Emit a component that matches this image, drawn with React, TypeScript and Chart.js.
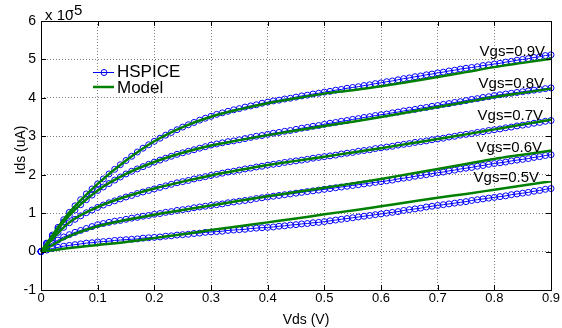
import { useEffect, useRef } from 'react';
import { Chart, registerables } from 'chart.js';

Chart.register(...registerables);

// Vds sweep (V) of the HSPICE samples and of the model curve samples
const vdsSweep = [
  0, 0.01, 0.02, 0.03, 0.04, 0.05, 0.06, 0.07, 0.08, 0.09,
  0.1, 0.11, 0.12, 0.13, 0.14, 0.15, 0.16, 0.17, 0.18, 0.19,
  0.2, 0.21, 0.22, 0.23, 0.24, 0.25, 0.26, 0.27, 0.28, 0.29,
  0.3, 0.31, 0.32, 0.33, 0.34, 0.35, 0.36, 0.37, 0.38, 0.39,
  0.4, 0.41, 0.42, 0.43, 0.44, 0.45, 0.46, 0.47, 0.48, 0.49,
  0.5, 0.51, 0.52, 0.53, 0.54, 0.55, 0.56, 0.57, 0.58, 0.59,
  0.6, 0.61, 0.62, 0.63, 0.64, 0.65, 0.66, 0.67, 0.68, 0.69,
  0.7, 0.71, 0.72, 0.73, 0.74, 0.75, 0.76, 0.77, 0.78, 0.79,
  0.8, 0.81, 0.82, 0.83, 0.84, 0.85, 0.86, 0.87, 0.88, 0.89,
  0.9,
];
const vdsModel = [
  0, 0.05, 0.1, 0.15, 0.2, 0.25, 0.3, 0.35, 0.4, 0.45,
  0.5, 0.55, 0.6, 0.65, 0.7, 0.75, 0.8, 0.85, 0.9,
];

const seriesNames = ['HSPICE', 'Model'];
const vgsLabels = ['Vgs=0.9V', 'Vgs=0.8V', 'Vgs=0.7V', 'Vgs=0.6V', 'Vgs=0.5V'];
const xTitle = 'Vds (V)';
const yTitle = 'Ids (uA)';
const yExponentBase = 'x 10';
const yExponent = '-5';

const xTickValues = [0, 0.1, 0.2, 0.3, 0.4, 0.5, 0.6, 0.7, 0.8, 0.9];
const xTickLabels = ['0', '0.1', '0.2', '0.3', '0.4', '0.5', '0.6', '0.7', '0.8', '0.9'];
const yTickValues = [-1, 0, 1, 2, 3, 4, 5, 6];
const yTickLabels = ['-1', '0', '1', '2', '3', '4', '5', '6'];

// HSPICE Ids (x 1e-5 A)
const hspice09 = [
  0, 0.22, 0.43, 0.63, 0.83, 1.02, 1.19, 1.35, 1.5, 1.63,
  1.76, 1.89, 2.02, 2.14, 2.26, 2.37, 2.48, 2.59, 2.69, 2.78,
  2.87, 2.95, 3.03, 3.1, 3.17, 3.24, 3.3, 3.36, 3.42, 3.47,
  3.52, 3.57, 3.61, 3.65, 3.69, 3.72, 3.76, 3.79, 3.82, 3.86,
  3.89, 3.92, 3.94, 3.97, 3.99, 4.02, 4.05, 4.07, 4.1, 4.12,
  4.15, 4.17, 4.2, 4.22, 4.25, 4.27, 4.29, 4.32, 4.34, 4.37,
  4.39, 4.42, 4.44, 4.47, 4.5, 4.52, 4.55, 4.57, 4.6, 4.62,
  4.65, 4.67, 4.7, 4.72, 4.75, 4.77, 4.79, 4.81, 4.84, 4.86,
  4.88, 4.9, 4.93, 4.95, 4.98, 5.0, 5.02, 5.05, 5.07, 5.1,
  5.12,
];
const hspice08 = [
  0, 0.21, 0.4, 0.59, 0.77, 0.94, 1.08, 1.22, 1.35, 1.47,
  1.59, 1.68, 1.77, 1.86, 1.94, 2.02, 2.09, 2.15, 2.21, 2.27,
  2.33, 2.38, 2.43, 2.48, 2.53, 2.57, 2.61, 2.65, 2.69, 2.73,
  2.77, 2.8, 2.83, 2.86, 2.88, 2.91, 2.94, 2.97, 3.0, 3.02,
  3.05, 3.08, 3.1, 3.13, 3.15, 3.18, 3.21, 3.23, 3.26, 3.28,
  3.31, 3.34, 3.36, 3.39, 3.41, 3.44, 3.46, 3.49, 3.51, 3.54,
  3.56, 3.58, 3.61, 3.63, 3.66, 3.68, 3.7, 3.73, 3.75, 3.78,
  3.8, 3.83, 3.85, 3.88, 3.9, 3.93, 3.96, 3.98, 4.01, 4.03,
  4.06, 4.08, 4.1, 4.12, 4.14, 4.16, 4.18, 4.2, 4.22, 4.24,
  4.26,
];
const hspice07 = [
  0, 0.18, 0.35, 0.5, 0.63, 0.75, 0.84, 0.93, 1.01, 1.08,
  1.15, 1.21, 1.27, 1.32, 1.37, 1.42, 1.46, 1.51, 1.55, 1.59,
  1.63, 1.67, 1.71, 1.75, 1.79, 1.82, 1.85, 1.89, 1.92, 1.95,
  1.98, 2.01, 2.04, 2.07, 2.09, 2.12, 2.15, 2.17, 2.2, 2.22,
  2.25, 2.27, 2.29, 2.32, 2.34, 2.36, 2.38, 2.4, 2.43, 2.45,
  2.47, 2.49, 2.51, 2.54, 2.56, 2.58, 2.61, 2.63, 2.65, 2.68,
  2.7, 2.72, 2.74, 2.77, 2.79, 2.81, 2.84, 2.86, 2.88, 2.91,
  2.93, 2.95, 2.98, 3.0, 3.03, 3.05, 3.07, 3.1, 3.12, 3.15,
  3.17, 3.19, 3.22, 3.24, 3.27, 3.29, 3.31, 3.34, 3.36, 3.39,
  3.41,
];
const hspice06 = [
  0, 0.12, 0.22, 0.3, 0.38, 0.44, 0.5, 0.55, 0.6, 0.65,
  0.7, 0.73, 0.76, 0.79, 0.81, 0.84, 0.87, 0.89, 0.92, 0.94,
  0.97, 0.99, 1.02, 1.04, 1.07, 1.09, 1.11, 1.14, 1.16, 1.18,
  1.2, 1.22, 1.24, 1.27, 1.29, 1.31, 1.33, 1.35, 1.38, 1.4,
  1.42, 1.44, 1.46, 1.48, 1.5, 1.52, 1.54, 1.56, 1.58, 1.6,
  1.62, 1.64, 1.66, 1.68, 1.7, 1.72, 1.74, 1.76, 1.78, 1.8,
  1.82, 1.84, 1.86, 1.89, 1.91, 1.93, 1.96, 1.98, 2.0, 2.03,
  2.05, 2.07, 2.1, 2.12, 2.15, 2.17, 2.19, 2.22, 2.24, 2.27,
  2.29, 2.31, 2.33, 2.36, 2.38, 2.4, 2.42, 2.45, 2.47, 2.5,
  2.52,
];
const hspice05 = [
  0, 0.04, 0.08, 0.11, 0.14, 0.16, 0.18, 0.2, 0.22, 0.23,
  0.25, 0.26, 0.27, 0.29, 0.3, 0.31, 0.32, 0.33, 0.35, 0.36,
  0.37, 0.38, 0.4, 0.41, 0.43, 0.44, 0.45, 0.47, 0.48, 0.5,
  0.51, 0.52, 0.53, 0.55, 0.56, 0.57, 0.58, 0.6, 0.61, 0.62,
  0.63, 0.64, 0.66, 0.67, 0.69, 0.7, 0.72, 0.73, 0.75, 0.76,
  0.78, 0.8, 0.82, 0.84, 0.86, 0.88, 0.9, 0.92, 0.94, 0.96,
  0.98, 1.0, 1.02, 1.04, 1.07, 1.09, 1.11, 1.13, 1.16, 1.18,
  1.2, 1.22, 1.24, 1.26, 1.28, 1.3, 1.33, 1.35, 1.37, 1.39,
  1.41, 1.43, 1.45, 1.48, 1.5, 1.52, 1.54, 1.57, 1.59, 1.62,
  1.64,
];

// Model Ids (x 1e-5 A)
const model09 = [0, 1.02, 1.76, 2.37, 2.87, 3.24, 3.51, 3.7, 3.86, 3.99, 4.11, 4.2, 4.3, 4.42, 4.54, 4.67, 4.8, 4.91, 5.02];
const model08 = [0, 0.94, 1.59, 2.02, 2.33, 2.57, 2.76, 2.9, 3.03, 3.15, 3.27, 3.38, 3.5, 3.63, 3.76, 3.89, 4.02, 4.13, 4.24];
const model07 = [0, 0.76, 1.16, 1.43, 1.64, 1.82, 1.98, 2.12, 2.25, 2.36, 2.47, 2.58, 2.69, 2.81, 2.93, 3.05, 3.18, 3.31, 3.43];
const model06 = [0, 0.4, 0.66, 0.82, 0.96, 1.08, 1.2, 1.32, 1.44, 1.55, 1.66, 1.77, 1.89, 2.02, 2.15, 2.28, 2.41, 2.52, 2.63];
const model05 = [0, 0.09, 0.17, 0.25, 0.35, 0.45, 0.56, 0.66, 0.76, 0.86, 0.97, 1.07, 1.18, 1.29, 1.4, 1.5, 1.61, 1.72, 1.83];

export default function App() {
  const ref = useRef<HTMLCanvasElement>(null);

  useEffect(() => {
    if (!ref.current) return;
    const family = "'Liberation Sans', Arial, Helvetica, sans-serif";
    const blue = '#0000ff';
    const green = '#008000';

    const hsp = [hspice09, hspice08, hspice07, hspice06, hspice05];
    const mod = [model09, model08, model07, model06, model05];

    const datasets: any[] = [];
    hsp.forEach((arr) => {
      datasets.push({
        label: seriesNames[0],
        data: arr.map((y, j) => ({ x: vdsSweep[j], y })),
        borderColor: blue,
        borderWidth: 1,
        pointRadius: 3,
        pointHoverRadius: 3,
        pointBorderColor: blue,
        pointBackgroundColor: 'rgba(0,0,0,0)',
        pointBorderWidth: 1,
        tension: 0,
        clip: false,
        order: 2,
      });
    });
    mod.forEach((arr) => {
      datasets.push({
        label: seriesNames[1],
        data: arr.map((y, j) => ({ x: vdsModel[j], y })),
        borderColor: green,
        borderWidth: 2.5,
        pointRadius: 0,
        cubicInterpolationMode: 'monotone',
        clip: false,
        order: 1,
      });
    });

    const overlay = {
      id: 'overlay',
      afterDraw(chart: any) {
        const ctx = chart.ctx as CanvasRenderingContext2D;
        const { left, right, top, bottom } = chart.chartArea;
        const xs = chart.scales.x;
        const ys = chart.scales.y;
        ctx.save();
        // box
        ctx.strokeStyle = '#000';
        ctx.lineWidth = 1;
        ctx.setLineDash([]);
        ctx.strokeRect(Math.round(left) + 0.5, Math.round(top) + 0.5, Math.round(right - left), Math.round(bottom - top));
        // inward ticks
        const tl = 5;
        ctx.beginPath();
        xTickValues.forEach((v) => {
          const px = Math.round(xs.getPixelForValue(v)) + 0.5;
          ctx.moveTo(px, bottom);
          ctx.lineTo(px, bottom - tl);
          ctx.moveTo(px, top);
          ctx.lineTo(px, top + tl);
        });
        yTickValues.forEach((v) => {
          const py = Math.round(ys.getPixelForValue(v)) + 0.5;
          ctx.moveTo(left, py);
          ctx.lineTo(left + tl, py);
          ctx.moveTo(right, py);
          ctx.lineTo(right - tl, py);
        });
        ctx.stroke();

        ctx.fillStyle = '#000';
        // exponent label
        ctx.font = `15px ${family}`;
        ctx.textAlign = 'left';
        ctx.textBaseline = 'alphabetic';
        ctx.fillText(yExponentBase, 45, 20);
        ctx.fillText(yExponent, 69, 15);

        // axis titles
        ctx.font = `14px ${family}`;
        ctx.textAlign = 'center';
        ctx.fillText(xTitle, 306, 324);
        ctx.save();
        ctx.translate(25, 150);
        ctx.rotate(-Math.PI / 2);
        ctx.fillText(yTitle, 0, 0);
        ctx.restore();

        // Vgs labels
        ctx.font = `15px ${family}`;
        ctx.textAlign = 'right';
        const lx = [545, 544, 543, 542, 539];
        const ly = [56, 88, 120, 152, 182];
        vgsLabels.forEach((t, i) => ctx.fillText(t, lx[i], ly[i]));

        // legend
        ctx.strokeStyle = blue;
        ctx.lineWidth = 1;
        ctx.beginPath();
        ctx.moveTo(93, 72.5);
        ctx.lineTo(114, 72.5);
        ctx.stroke();
        ctx.beginPath();
        ctx.arc(104, 72.5, 3, 0, Math.PI * 2);
        ctx.stroke();
        ctx.strokeStyle = green;
        ctx.lineWidth = 2.5;
        ctx.beginPath();
        ctx.moveTo(93, 87);
        ctx.lineTo(114, 87);
        ctx.stroke();
        ctx.fillStyle = '#000';
        ctx.font = `17px ${family}`;
        ctx.textAlign = 'left';
        ctx.fillText(seriesNames[0], 117, 77);
        ctx.fillText(seriesNames[1], 117, 93);
        ctx.restore();
      },
    };

    const gridColor = 'rgba(0,0,0,0.5)';
    const chart = new Chart(ref.current, {
      type: 'line',
      data: { datasets },
      options: {
        responsive: false,
        animation: false,
        devicePixelRatio: 1,
        layout: { padding: { left: 0, right: 11, top: 21, bottom: 0 } },
        plugins: { legend: { display: false }, tooltip: { enabled: false } },
        events: [],
        scales: {
          x: {
            type: 'linear',
            min: 0,
            max: 0.9,
            afterBuildTicks: (s: any) => {
              s.ticks = xTickValues.map((v) => ({ value: v }));
            },
            afterFit: (s: any) => {
              s.height = 38;
            },
            ticks: {
              autoSkip: false,
              maxRotation: 0,
              padding: 1,
              color: '#000',
              font: { size: 13, family },
              callback: (_v: any, i: number) => xTickLabels[i],
            },
            grid: { color: gridColor, drawTicks: false, lineWidth: 1 },
            border: { display: false, dash: [1, 2] },
          },
          y: {
            type: 'linear',
            min: -1,
            max: 6,
            afterBuildTicks: (s: any) => {
              s.ticks = yTickValues.map((v) => ({ value: v }));
            },
            afterFit: (s: any) => {
              s.width = 41;
            },
            ticks: {
              autoSkip: false,
              padding: 5,
              color: '#000',
              font: { size: 14, family },
              callback: (_v: any, i: number) => yTickLabels[i],
            },
            grid: { color: gridColor, drawTicks: false, lineWidth: 1 },
            border: { display: false, dash: [1, 2] },
          },
        },
      } as any,
      plugins: [overlay],
    });
    return () => chart.destroy();
  }, []);

  return (
    <div style={{ position: 'absolute', left: 0, top: 0, width: 562, height: 328, background: '#fff' }}>
      <canvas ref={ref} width={562} height={328} style={{ display: 'block' }} />
    </div>
  );
}
